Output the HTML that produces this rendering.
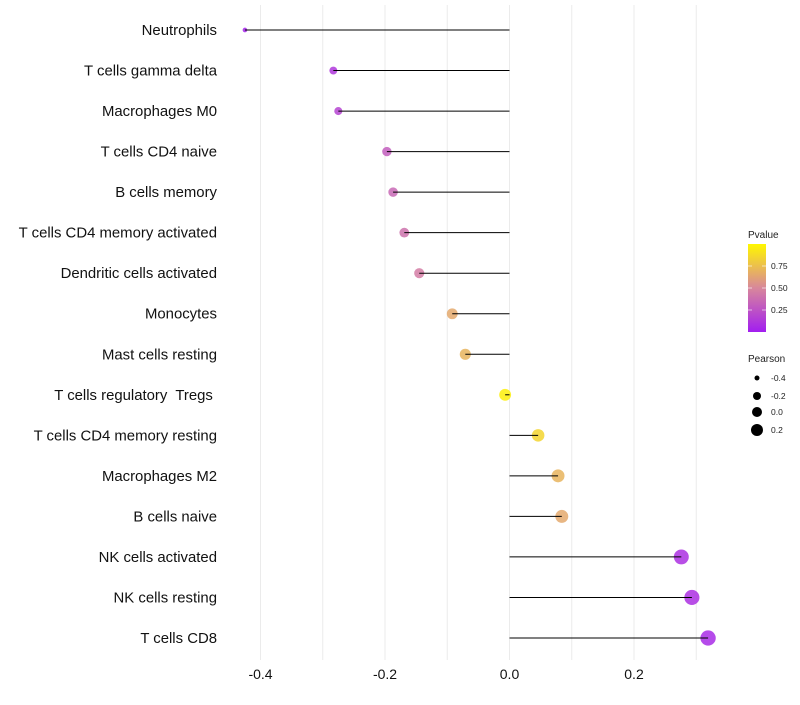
<!DOCTYPE html>
<html><head><meta charset="utf-8"><style>
body{margin:0;background:#fff;font-family:"Liberation Sans",sans-serif}
</style></head><body>
<svg id="c" width="800" height="700" xmlns="http://www.w3.org/2000/svg">
<defs><linearGradient id="pg" x1="0" y1="1" x2="0" y2="0">
<stop offset="0" stop-color="#A21EF0"/><stop offset="0.5" stop-color="#D8879B"/><stop offset="1" stop-color="#FFF700"/>
</linearGradient></defs>
<g id="grid"></g><g id="marks"></g><g id="labels"></g><g id="xt"></g>
<g font-size="10" fill="#222">
<text x="748" y="238">Pvalue</text>
<rect x="748" y="244" width="18" height="88" fill="url(#pg)"/>
<line x1="748" y1="266" x2="752" y2="266" stroke="#fff" stroke-opacity="0.6"/><line x1="762" y1="266" x2="766" y2="266" stroke="#fff" stroke-opacity="0.6"/>
<line x1="748" y1="288" x2="752" y2="288" stroke="#fff" stroke-opacity="0.6"/><line x1="762" y1="288" x2="766" y2="288" stroke="#fff" stroke-opacity="0.6"/>
<line x1="748" y1="310" x2="752" y2="310" stroke="#fff" stroke-opacity="0.6"/><line x1="762" y1="310" x2="766" y2="310" stroke="#fff" stroke-opacity="0.6"/>
<text x="771" y="269" font-size="8.5">0.75</text><text x="771" y="291" font-size="8.5">0.50</text><text x="771" y="313" font-size="8.5">0.25</text>
</g>
<g fill="#222">
<text x="748" y="362" font-size="10">Pearson</text>
<circle cx="757" cy="378" r="2.5" fill="#000"/><text x="771" y="381" font-size="8.5">-0.4</text>
<circle cx="757" cy="396" r="4" fill="#000"/><text x="771" y="399" font-size="8.5">-0.2</text>
<circle cx="757" cy="412" r="5" fill="#000"/><text x="771" y="415" font-size="8.5">0.0</text>
<circle cx="757" cy="430" r="6" fill="#000"/><text x="771" y="433" font-size="8.5">0.2</text>
</g>
</svg>
<script>
const categories=["Neutrophils","T cells gamma delta","Macrophages M0","T cells CD4 naive","B cells memory","T cells CD4 memory activated","Dendritic cells activated","Monocytes","Mast cells resting","T cells regulatory\u00a0 Tregs\u00a0","T cells CD4 memory resting","Macrophages M2","B cells naive","NK cells activated","NK cells resting","T cells CD8"];
const pearson=[-0.425,-0.283,-0.275,-0.197,-0.187,-0.169,-0.145,-0.092,-0.071,-0.007,0.046,0.078,0.084,0.276,0.293,0.319];
const pvalue=[0.03,0.12,0.18,0.3,0.35,0.4,0.45,0.65,0.7,0.97,0.85,0.7,0.65,0.08,0.08,0.06];
const xTicks=[-0.4,-0.2,0.0,0.2];
const NS="http://www.w3.org/2000/svg";
const xs=v=>509.5+v*622.5;
const ys=i=>30+i*(608/15);
function mk(t,a,p){const e=document.createElementNS(NS,t);for(const k in a)e.setAttribute(k,a[k]);document.getElementById(p).appendChild(e);return e;}
function lerp(a,b,t){return a.map((v,i)=>Math.round(v+(b[i]-v)*t));}
function col(p){const c0=[162,30,240],c1=[216,135,155],c2=[255,247,0];const c=p<0.5?lerp(c0,c1,p/0.5):lerp(c1,c2,(p-0.5)/0.5);return `rgb(${c.join(',')})`;}
for(let v=-0.4;v<=0.301;v+=0.1){const g=mk('line',{x1:xs(v),x2:xs(v),y1:5,y2:660,stroke:'#ebebeb','stroke-width':1},'grid');

}
categories.forEach((c,i)=>{
const y=ys(i),v=pearson[i];
const r=Math.sqrt(Math.max(36+72*v,4));
const pt=mk('circle',{cx:xs(v),cy:y,r:r,fill:col(pvalue[i]),'fill-opacity':0.85},'marks');


const ln=mk('line',{x1:xs(0),x2:xs(v),y1:y,y2:y,stroke:'#000','stroke-width':1},'marks');


const t=mk('text',{x:217,y:y+5,'text-anchor':'end','font-size':14.9,fill:'#111'},'labels');
t.textContent=c;


});
xTicks.forEach(v=>{const t=mk('text',{x:xs(v),y:679,'text-anchor':'middle','font-size':14,fill:'#111'},'xt');
t.textContent=v.toFixed(1);

});
</script>
</body></html>
